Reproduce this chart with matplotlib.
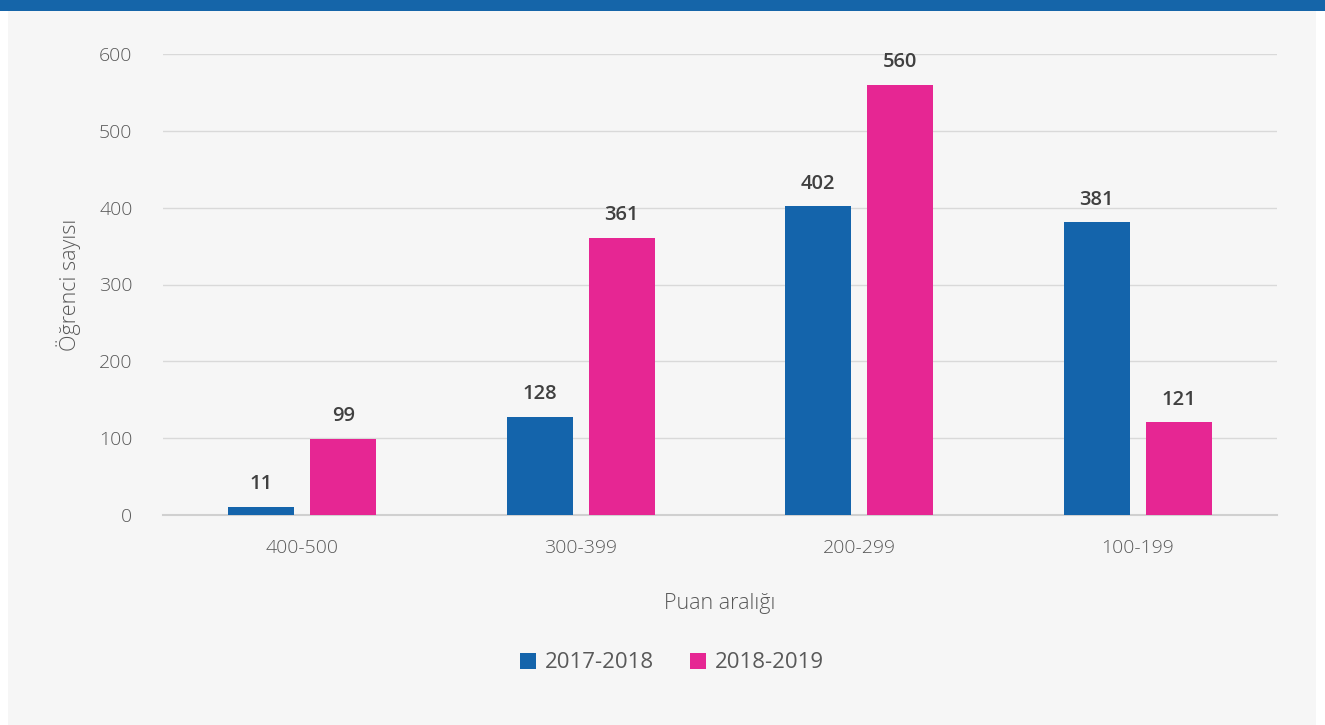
import matplotlib
matplotlib.use("Agg")
import matplotlib.pyplot as plt
import numpy as np
from matplotlib.patches import Rectangle

categories = ["400-500", "300-399", "200-299", "100-199"]
series_names = ["2017-2018", "2018-2019"]
values_2017 = [11, 128, 402, 381]
values_2018 = [99, 361, 560, 121]
y_ticks = [0, 100, 200, 300, 400, 500, 600]

BLUE = "#1464ab"
PINK = "#e62693"
BG = "#f6f6f6"

plt.rcParams["font.family"] = ["Open Sans", "DejaVu Sans"]

fig = plt.figure(figsize=(13.25, 7.25), dpi=100)
fig.patch.set_facecolor("white")
# light panel and blue top band, kept behind the axes
fig.patches.append(Rectangle((8 / 1325, 0), (1316 - 8) / 1325, 1, transform=fig.transFigure,
                             facecolor=BG, edgecolor="none", zorder=-2))
fig.patches.append(Rectangle((0, 1 - 11 / 725), 1, 11 / 725, transform=fig.transFigure,
                             facecolor="#1565a9", edgecolor="none", zorder=-1))

ax = fig.add_axes([163 / 1325, 1 - 515 / 725, (1277 - 163) / 1325, (515 - 54) / 725])
ax.set_facecolor(BG)

x = np.arange(len(categories))
width = 0.237
offset = 0.147
b1 = ax.bar(x - offset, values_2017, width, color=BLUE, label=series_names[0], zorder=3)
b2 = ax.bar(x + offset, values_2018, width, color=PINK, label=series_names[1], zorder=3)

for bars in (b1, b2):
    for rect in bars:
        h = rect.get_height()
        ax.annotate("{}".format(int(h)), (rect.get_x() + rect.get_width() / 2, h),
                    xytext=(0, 9), textcoords="offset points", ha="center", va="bottom",
                    fontsize=14.5, fontweight="semibold", color="#404040")

ax.set_xlim(-0.5, 3.5)
ax.set_ylim(0, 600)
ax.set_yticks(y_ticks)
ax.set_xticks(x)
ax.set_xticklabels(categories)
ax.tick_params(axis="both", length=0, labelsize=14, labelcolor="#595959")
ax.tick_params(axis="y", pad=22)
ax.tick_params(axis="x", pad=17)
for lbl in ax.get_xticklabels() + ax.get_yticklabels():
    lbl.set_fontweight("light")

ax.grid(axis="y", color="#d9d9d9", linewidth=1, zorder=0)
ax.set_axisbelow(True)
for side in ("top", "right", "left"):
    ax.spines[side].set_visible(False)
ax.spines["bottom"].set_color("#d0d0d0")
ax.spines["bottom"].set_linewidth(1.5)

ax.set_xlabel("Puan aralığı", fontsize=15.5, color="#595959", fontweight="light", labelpad=26)
ax.set_ylabel("Öğrenci sayısı", fontsize=15.5, color="#595959", fontweight="light")
ax.yaxis.set_label_coords(-82 / 1114, 0.5)

leg = fig.legend(handles=[b1, b2], labels=series_names, loc="center", ncol=2,
                 bbox_to_anchor=(672 / 1325, 1 - 663 / 725), frameon=False, fontsize=16,
                 handlelength=0.75, handleheight=0.75, handletextpad=0.4, columnspacing=1.6)
for t in leg.get_texts():
    t.set_color("#595959")

fig.savefig("out.png", dpi=100, facecolor=fig.get_facecolor())
